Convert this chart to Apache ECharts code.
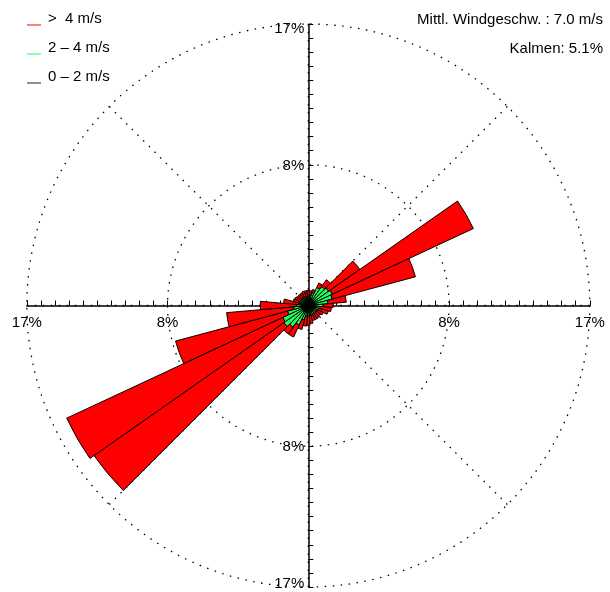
<!DOCTYPE html>
<html>
<head>
<meta charset="utf-8">
<script src="https://cdn.jsdelivr.net/npm/echarts@6/dist/echarts.min.js"></script>
<style>
html,body{margin:0;padding:0;background:#fff;}
#c{width:610px;height:592px;}
</style>
</head>
<body>
<div id="c"></div>
<script>
// Wind directions (sector centres, degrees from north, clockwise)
const directions = ['10','20','30','40','50','60','70','80','90','100','110','120',
  '130','140','150','160','170','180','190','200','210','220','230','240',
  '250','260','270','280','290','300','310','320','330','340','350','360'];
// Frequency (%) per speed class, per direction
const speed0to2 = [0.45,0.45,0.45,0.45,0.45,0.45,0.45,0.45,0.45,0.45,0.45,0.45,
  0.45,0.45,0.45,0.45,0.45,0.45,0.45,0.45,0.45,0.45,0.45,0.45,
  0.45,0.45,0.45,0.45,0.45,0.45,0.45,0.45,0.45,0.45,0.45,0.45];
const speed2to4 = [0.15,0.35,0.75,0.95,1.05,1.15,1.05,0.75,0.45,0.25,0.2,0.15,
  0.1,0.1,0.15,0.15,0.15,0.15,0.2,0.45,0.85,1.15,1.35,1.25,
  0.85,0.45,0.25,0.15,0.1,0.1,0.1,0.1,0.1,0.1,0.1,0.1];
const speedAbove4 = [0.3,0.2,0.3,0.5,2.3,9.4,5.2,1.1,0.6,0.7,0.6,0.4,
  0.35,0.4,0.35,0.35,0.5,0.6,0.6,0.6,0.8,0.5,14.0,14.4,
  7.0,4.05,2.2,0.9,0.4,0.35,0.3,0.3,0.3,0.35,0.35,0.35];
const seriesNames = ['0 – 2 m/s', '2 – 4 m/s', '>  4 m/s'];
const legendOrder = ['>  4 m/s', '2 – 4 m/s', '0 – 2 m/s'];
// Rings / tick labels
const axisMax = 17;
const ringValues = [8.5, 17];
const ringLabels = ['8%', '17%'];
const tickStep = 0.85;
const meanSpeed = '7.0';
const calmPct = '5.1';

const cx = 308.3, cy = 305.5, R = 281.5;
const FONT = 'Liberation Sans, Arial, Helvetica, sans-serif';

function ringLabel(v) {
  const a = Math.round(Math.abs(v) * 100);
  for (let i = 0; i < ringValues.length; i++) {
    if (Math.round(ringValues[i] * 100) === a) return ringLabels[i];
  }
  return '';
}
function ringLabelY(v) {
  const t = ringLabel(v);
  if (!t) return '';
  if (Math.round(v * 100) === Math.round(axisMax * 100)) return '{top|' + t + '}';
  if (Math.round(v * 100) === -Math.round(axisMax * 100)) return '{bot|' + t + '}';
  return '{mid|' + t + '}';
}

const chart = echarts.init(document.getElementById('c'), null, {renderer: 'canvas'});
const dotted = {color: '#000', width: 1.3, type: [1.5, 6.5]};
const titleStyle = {fontFamily: FONT, fontSize: 15, fontWeight: 'normal', color: '#000'};
const yl = {fontFamily: FONT, fontSize: 15, color: '#000'};

chart.setOption({
  animation: false,
  backgroundColor: '#fff',
  textStyle: {fontFamily: FONT},
  title: [
    {text: 'Mittl. Windgeschw. : ' + meanSpeed + ' m/s', right: 7, top: 12, padding: 0, textStyle: titleStyle},
    {text: 'Kalmen: ' + calmPct + '%', right: 7, top: 41, padding: 0, textStyle: titleStyle}
  ],
  legend: {
    data: legendOrder,
    orient: 'vertical',
    left: 27, top: 11, padding: 0,
    itemWidth: 14, itemHeight: 14, itemGap: 14,
    icon: 'path://M0,0L0.02,0L0.02,0.02L0,0.02Z M0,9.2L10,9.2L10,10L0,10Z',
    itemStyle: {borderWidth: 0},
    selectedMode: false,
    textStyle: {fontFamily: FONT, fontSize: 15, color: '#000', padding: [0, 0, 0, 2]}
  },
  grid: {left: cx - R, top: cy - R, width: 2 * R, height: 2 * R, containLabel: false, outerBoundsMode: 'none'},
  xAxis: {
    type: 'value', min: -axisMax, max: axisMax, interval: tickStep,
    position: 'bottom', offset: -R,
    axisLine: {onZero: false, lineStyle: {color: '#000', width: 1.5}},
    axisTick: {inside: true, length: 5, lineStyle: {color: '#000', width: 1}},
    axisLabel: {formatter: ringLabel, color: '#000', fontSize: 15, fontFamily: FONT, margin: 10,
      showMinLabel: true, showMaxLabel: true, hideOverlap: false},
    splitLine: {show: false}, z: 1
  },
  yAxis: {
    type: 'value', min: -axisMax, max: axisMax, interval: tickStep,
    position: 'left', offset: -R,
    axisLine: {onZero: false, lineStyle: {color: '#000', width: 1.5}},
    axisTick: {inside: true, length: 5, lineStyle: {color: '#000', width: 1}},
    axisLabel: {formatter: ringLabelY, margin: 4,
      showMinLabel: true, showMaxLabel: true, hideOverlap: false,
      rich: {
        top: Object.assign({padding: [10, 0, 0, 0]}, yl),
        mid: Object.assign({padding: [2, 0, 0, 0]}, yl),
        bot: Object.assign({padding: [0, 0, 6, 0]}, yl)
      }},
    splitLine: {show: false}, z: 1
  },
  polar: [
    {center: [cx, cy], radius: R},
    {center: [cx, cy], radius: R}
  ],
  angleAxis: [
    {polarIndex: 0, type: 'value', min: 0, max: 360, interval: 45, startAngle: 90,
      axisLine: {show: false}, axisTick: {show: false}, axisLabel: {show: false},
      splitLine: {show: true, lineStyle: dotted}, z: 0},
    {polarIndex: 1, type: 'category', data: directions, startAngle: 85, boundaryGap: true,
      axisLine: {show: false}, axisTick: {show: false}, axisLabel: {show: false},
      splitLine: {show: false}}
  ],
  radiusAxis: [
    {polarIndex: 0, type: 'value', min: 0, max: axisMax, interval: axisMax / 2,
      axisLine: {show: false}, axisTick: {show: false}, axisLabel: {show: false},
      splitLine: {show: true, lineStyle: dotted}, z: 0},
    {polarIndex: 1, type: 'value', min: 0, max: axisMax,
      axisLine: {show: false}, axisTick: {show: false}, axisLabel: {show: false},
      splitLine: {show: false}}
  ],
  series: [
    {name: seriesNames[0], type: 'bar', coordinateSystem: 'polar', polarIndex: 1, stack: 'w',
      barCategoryGap: '0%', data: speed0to2, color: '#005a00',
      itemStyle: {color: '#003a00', borderColor: '#000', borderWidth: 1}, z: 3},
    {name: seriesNames[1], type: 'bar', coordinateSystem: 'polar', polarIndex: 1, stack: 'w',
      barCategoryGap: '0%', data: speed2to4, color: '#1aff5a',
      itemStyle: {color: '#1aff5a', borderColor: '#000', borderWidth: 1}, z: 3},
    {name: seriesNames[2], type: 'bar', coordinateSystem: 'polar', polarIndex: 1, stack: 'w',
      barCategoryGap: '0%', data: speedAbove4, color: '#ff0000',
      itemStyle: {color: '#ff0000', borderColor: '#000', borderWidth: 1}, z: 3}
  ]
});
</script>
</body>
</html>
